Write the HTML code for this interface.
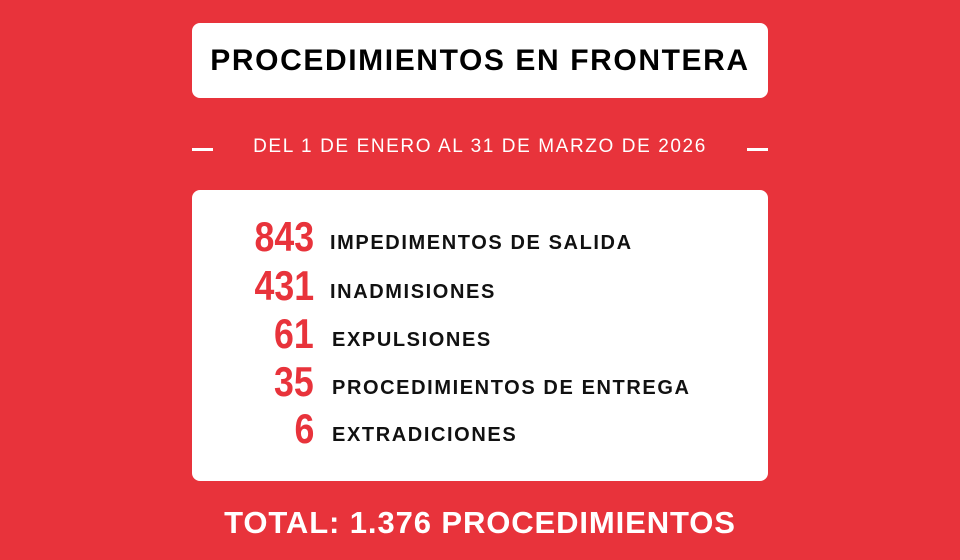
<!DOCTYPE html>
<html><head><meta charset="utf-8"><style>
body{margin:0;width:960px;height:560px;background:#e8333b;position:relative;overflow:hidden;font-family:"Liberation Sans",sans-serif}
.box{position:absolute;left:192px;width:576px;background:#fff;border-radius:8px}
.t{top:23px;height:75px;font-weight:bold;font-size:30px;text-align:center;line-height:75px;color:#000;letter-spacing:1.6px;white-space:nowrap}
.sub{position:absolute;top:136px;left:0;width:960px;text-align:center;color:#fff;font-size:19px;line-height:22px;letter-spacing:1.6px}
.dash{position:absolute;top:148px;width:21px;height:3px;background:#fff}
.m{top:190px;height:291px}
.row{position:absolute;left:0;width:576px;height:40px}
.n{position:absolute;right:454px;bottom:-2px;font-weight:bold;font-size:42px;color:#e8333b;line-height:42px;transform:scaleX(0.85);transform-origin:right bottom}
.l{position:absolute;left:140px;bottom:3px;font-weight:bold;font-size:20px;color:#111;line-height:20px;letter-spacing:1.6px;white-space:nowrap}
.tot{position:absolute;top:505px;left:0;width:960px;text-align:center;color:#fff;font-weight:bold;font-size:31px;letter-spacing:0.9px}
</style></head><body>
<div class="box t">PROCEDIMIENTOS EN FRONTERA</div>
<div class="dash" style="left:192px"></div><div class="dash" style="left:747px"></div>
<div class="sub">DEL 1 DE ENERO AL 31 DE MARZO DE 2026</div>
<div class="box m">
<div class="row" style="top:26px"><span class="n">843</span><span class="l" style="left:138px">IMPEDIMENTOS DE SALIDA</span></div>
<div class="row" style="top:75px"><span class="n">431</span><span class="l" style="left:138px">INADMISIONES</span></div>
<div class="row" style="top:123px"><span class="n">61</span><span class="l">EXPULSIONES</span></div>
<div class="row" style="top:171px"><span class="n">35</span><span class="l">PROCEDIMIENTOS DE ENTREGA</span></div>
<div class="row" style="top:218px"><span class="n">6</span><span class="l">EXTRADICIONES</span></div>
</div>
<div class="tot">TOTAL: 1.376 PROCEDIMIENTOS</div>
</body></html>
